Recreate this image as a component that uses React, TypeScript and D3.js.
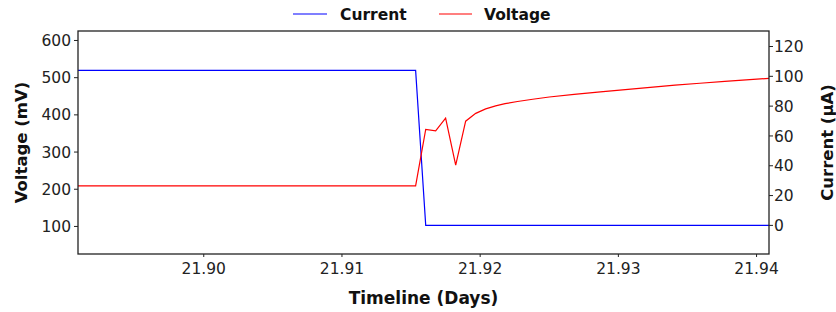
import * as d3 from 'd3'

// readings
const currentDays = [21.8909, 21.91533, 21.91606, 21.9409]
const currentUa = [104, 104, 0, 0]

const voltageDays = [
  21.8909, 21.91533, 21.91606, 21.91678, 21.9175, 21.91823, 21.91895, 21.91968, 21.9204, 21.92112, 21.9218,
  21.9227, 21.9238, 21.925, 21.9268, 21.9287, 21.9305, 21.9323, 21.9341, 21.9359, 21.9377, 21.9395, 21.9409,
]
const voltageMv = [
  209, 209, 361, 357, 391, 265, 383, 404, 416, 424, 430, 436, 442, 448, 455, 462, 468, 474, 480, 485, 490, 495, 498,
]

const xTicks = [21.9, 21.91, 21.92, 21.93, 21.94]
const leftTicks = [100, 200, 300, 400, 500, 600]
const rightTicks = [0, 20, 40, 60, 80, 100, 120]

const W = 836
const H = 312
const M = { top: 31, right: 67, bottom: 58, left: 78 }
const FONT = "'DejaVu Sans', Verdana, sans-serif"
const AXIS = '#222'

type Pt = { d: number; v: number }

export default function App() {
  const innerW = W - M.left - M.right
  const innerH = H - M.top - M.bottom

  const x = d3.scaleLinear().domain([21.8909, 21.9409]).range([0, innerW])
  const yL = d3.scaleLinear().domain([25.9, 625.5]).range([innerH, 0])
  const yR = d3.scaleLinear().domain([-19.2, 130.4]).range([innerH, 0])

  const current: Pt[] = currentDays.map((d, i) => ({ d, v: currentUa[i] }))
  const voltage: Pt[] = voltageDays.map((d, i) => ({ d, v: voltageMv[i] }))

  const lineR = d3
    .line<Pt>()
    .x((p) => x(p.d))
    .y((p) => yR(p.v))
  const lineL = d3
    .line<Pt>()
    .x((p) => x(p.d))
    .y((p) => yL(p.v))

  return (
    <svg
      width={W}
      height={H}
      style={{ position: 'absolute', left: 0, top: 0, background: '#fff' }}
      fontFamily={FONT}
    >
      {/* legend */}
      <g fontSize={15.5} fontWeight="bold" fill="#111">
        <line x1={293} x2={327} y1={14} y2={14} stroke="#0000ff" strokeWidth={1.2} />
        <text x={340} y={19.5}>Current</text>
        <line x1={439} x2={472} y1={14} y2={14} stroke="#ff0000" strokeWidth={1.2} />
        <text x={484} y={19.5}>Voltage</text>
      </g>

      <g transform={`translate(${M.left},${M.top})`}>
        <path d={lineR(current) ?? ''} fill="none" stroke="#0000ff" strokeWidth={1.2} />
        <path d={lineL(voltage) ?? ''} fill="none" stroke="#ff0000" strokeWidth={1.2} />

        <rect x={0} y={0} width={innerW} height={innerH} fill="none" stroke={AXIS} strokeWidth={1.3} />

        {/* x axis */}
        <g fontSize={15.5} fill="#222" textAnchor="middle">
          {xTicks.map((t) => (
            <g key={t} transform={`translate(${x(t)},${innerH})`}>
              <line y1={0} y2={3} stroke={AXIS} />
              <text y={20}>{d3.format('.2f')(t)}</text>
            </g>
          ))}
        </g>

        {/* left axis */}
        <g fontSize={15.5} fill="#222" textAnchor="end">
          {leftTicks.map((t) => (
            <g key={t} transform={`translate(0,${yL(t)})`}>
              <line x1={-4} x2={0} stroke={AXIS} />
              <text x={-7} dy="0.36em">{t}</text>
            </g>
          ))}
        </g>

        {/* right axis */}
        <g fontSize={15.5} fill="#222" textAnchor="start">
          {rightTicks.map((t) => (
            <g key={t} transform={`translate(${innerW},${yR(t)})`}>
              <line x1={0} x2={4} stroke={AXIS} />
              <text x={5} dy="0.36em">{t}</text>
            </g>
          ))}
        </g>

        <text
          x={innerW / 2}
          y={innerH + 50}
          textAnchor="middle"
          fontSize={17}
          fontWeight="bold"
          fill="#111"
        >
          Timeline (Days)
        </text>
        <text
          transform={`translate(${-57},${innerH / 2}) rotate(-90)`}
          textAnchor="middle"
          dy="0.35em"
          fontSize={16.5}
          fontWeight="bold"
          fill="#111"
        >
          Voltage (mV)
        </text>
        <text
          transform={`translate(${innerW + 58},${innerH / 2}) rotate(-90)`}
          textAnchor="middle"
          dy="0.35em"
          fontSize={16.5}
          fontWeight="bold"
          fill="#111"
        >
          Current (µA)
        </text>
      </g>
    </svg>
  )
}
